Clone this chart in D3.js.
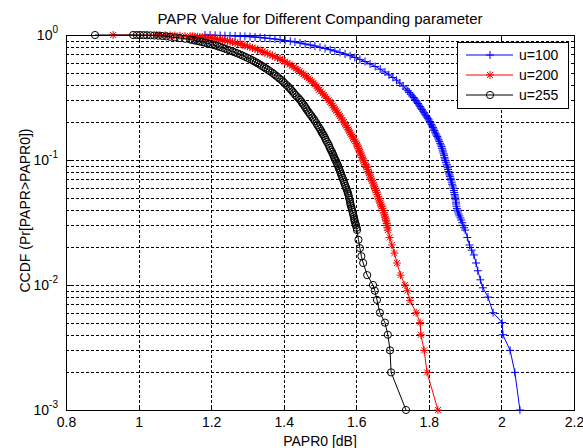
<!DOCTYPE html>
<html>
<head>
<meta charset="utf-8">
<script src="https://cdn.jsdelivr.net/npm/d3@7"></script>
<style>
  body { margin: 0; background: #fff; }
  svg { display: block; font-family: "Liberation Sans", Arial, sans-serif; }
</style>
</head>
<body>
<svg width="583" height="448"></svg>
<script>
// chart data
const xTicks = [0.8, 1, 1.2, 1.4, 1.6, 1.8, 2, 2.2];
const yTickExps = [0, -1, -2, -3];
const seriesNames = ['u=100', 'u=200', 'u=255'];

const u100X = [1.183, 1.197, 1.211, 1.225, 1.238, 1.252, 1.266, 1.280, 1.293, 1.307, 1.321, 1.335, 1.348, 1.362,
  1.376, 1.390, 1.404, 1.418, 1.431, 1.445, 1.459, 1.473, 1.486, 1.500, 1.514, 1.528, 1.541, 1.555, 1.569, 1.583,
  1.596, 1.610, 1.624, 1.638, 1.652, 1.666, 1.679, 1.690, 1.701, 1.711, 1.720, 1.729,
  1.737, 1.742, 1.746, 1.750, 1.754, 1.758, 1.761, 1.764, 1.767, 1.770, 1.773, 1.776, 1.778, 1.781, 1.784, 1.787,
  1.789, 1.792, 1.795, 1.798, 1.800, 1.803, 1.805, 1.807, 1.809, 1.811, 1.813, 1.815, 1.817, 1.819, 1.821, 1.823,
  1.825, 1.827, 1.829, 1.831, 1.833, 1.835, 1.836, 1.838, 1.839, 1.841, 1.842, 1.843, 1.844, 1.846, 1.847, 1.849,
  1.850, 1.852, 1.853, 1.854, 1.855, 1.857, 1.858, 1.860, 1.861, 1.863, 1.864, 1.866, 1.867, 1.869, 1.870, 1.871,
  1.872, 1.873, 1.874, 1.875, 1.875, 1.876, 1.877, 1.879, 1.880, 1.882, 1.884, 1.887, 1.889, 1.892, 1.894, 1.897,
  1.900, 1.906, 1.912, 1.918, 1.924, 1.930, 1.935, 1.942, 1.949, 1.963, 1.977, 2.002, 2.004, 2.024, 2.037, 2.051];
const u100Y = [1.000, 0.998, 0.995, 0.992, 0.989, 0.986, 0.982, 0.978, 0.973, 0.969, 0.964, 0.955, 0.946, 0.938,
  0.929, 0.916, 0.904, 0.892, 0.879, 0.863, 0.847, 0.832, 0.817, 0.798, 0.780, 0.762, 0.745, 0.725, 0.705, 0.683,
  0.661, 0.638, 0.614, 0.587, 0.560, 0.533, 0.506, 0.480, 0.457, 0.435, 0.413, 0.391,
  0.370, 0.358, 0.347, 0.336, 0.325, 0.316, 0.307, 0.299, 0.291, 0.283, 0.275, 0.267, 0.260, 0.253, 0.246, 0.239,
  0.233, 0.226, 0.220, 0.214, 0.209, 0.203, 0.198, 0.192, 0.187, 0.182, 0.177, 0.172, 0.167, 0.162, 0.158, 0.154,
  0.150, 0.145, 0.141, 0.136, 0.132, 0.128, 0.124, 0.120, 0.116, 0.112, 0.109, 0.105, 0.102, 0.099, 0.096, 0.0925,
  0.0895, 0.0867, 0.084, 0.081, 0.0786, 0.076, 0.074, 0.0715, 0.0692, 0.0665, 0.064, 0.062, 0.0596, 0.057, 0.055, 0.053,
  0.0515, 0.0497, 0.048, 0.046, 0.0445, 0.0427, 0.041, 0.0397, 0.0384, 0.037, 0.0357, 0.0344, 0.0331, 0.0315, 0.030, 0.0287,
  0.0275, 0.024, 0.0209, 0.019, 0.0174, 0.015, 0.013, 0.011, 0.0095, 0.008, 0.006, 0.005, 0.004, 0.003, 0.002, 0.001];

const u200X = [0.930, 1.050, 1.059, 1.073, 1.087, 1.100, 1.114, 1.128,
  1.142, 1.149, 1.155, 1.162, 1.169, 1.176, 1.183, 1.190, 1.197, 1.204, 1.211, 1.218, 1.224, 1.231, 1.238, 1.245,
  1.252, 1.259, 1.266, 1.273, 1.280, 1.287, 1.293, 1.300, 1.307, 1.314, 1.321, 1.328, 1.335, 1.342, 1.348, 1.355,
  1.362, 1.369, 1.376, 1.383, 1.390, 1.397, 1.403, 1.410, 1.417, 1.423, 1.428, 1.434, 1.439, 1.444, 1.449, 1.454,
  1.459, 1.464, 1.468, 1.473, 1.478, 1.482, 1.486, 1.490, 1.494, 1.498, 1.502, 1.507, 1.511, 1.515, 1.519, 1.524,
  1.528, 1.532, 1.535, 1.538, 1.541, 1.545, 1.548, 1.552, 1.555, 1.559, 1.562, 1.566, 1.569, 1.572, 1.575, 1.578,
  1.580, 1.583, 1.586, 1.589, 1.591, 1.594, 1.597, 1.600, 1.602, 1.604, 1.606, 1.608, 1.610, 1.612, 1.614, 1.616,
  1.618, 1.620, 1.622, 1.625, 1.627, 1.629, 1.631, 1.633, 1.635, 1.637, 1.639, 1.641, 1.643, 1.646, 1.648, 1.650,
  1.652, 1.654, 1.656, 1.658, 1.660, 1.662, 1.664, 1.666, 1.668, 1.670, 1.672, 1.674, 1.676, 1.678, 1.679, 1.681,
  1.682, 1.684, 1.685, 1.686, 1.687,
  1.692, 1.698, 1.705, 1.712, 1.722, 1.734, 1.741, 1.748, 1.765, 1.776, 1.778, 1.787, 1.795, 1.825];
const u200Y = [1.000, 1.000, 0.999, 0.997, 0.994, 0.991, 0.987, 0.983,
  0.978, 0.975, 0.971, 0.968, 0.964, 0.960, 0.955, 0.951, 0.946, 0.940, 0.933, 0.927, 0.920, 0.912, 0.904, 0.896,
  0.887, 0.877, 0.867, 0.857, 0.847, 0.836, 0.825, 0.814, 0.802, 0.790, 0.777, 0.764, 0.751, 0.738, 0.725, 0.712,
  0.698, 0.684, 0.670, 0.656, 0.642, 0.627, 0.612, 0.597, 0.581, 0.567, 0.553, 0.539, 0.525, 0.512, 0.499, 0.486,
  0.474, 0.461, 0.449, 0.437, 0.425, 0.413, 0.401, 0.389, 0.377, 0.365, 0.354, 0.342, 0.331, 0.321, 0.311, 0.301,
  0.291, 0.282, 0.273, 0.264, 0.256, 0.248, 0.240, 0.232, 0.225, 0.217, 0.209, 0.201, 0.194, 0.188, 0.182, 0.176,
  0.171, 0.165, 0.160, 0.155, 0.150, 0.145, 0.141, 0.136, 0.132, 0.128, 0.124, 0.120, 0.116, 0.112, 0.109, 0.105,
  0.102, 0.0985, 0.095, 0.092, 0.0895, 0.087, 0.084, 0.081, 0.0786, 0.0757, 0.073, 0.0705, 0.0681, 0.0655, 0.063, 0.061,
  0.0588, 0.057, 0.055, 0.053, 0.0508, 0.049, 0.047, 0.0455, 0.0438, 0.0424, 0.041, 0.0394, 0.0378, 0.0364, 0.035, 0.0338,
  0.0327, 0.031, 0.030, 0.0287, 0.0275,
  0.024, 0.0209, 0.018, 0.015, 0.012, 0.010, 0.009, 0.0075, 0.006, 0.005, 0.004, 0.003, 0.002, 0.001];

const u255X = [0.880, 0.985, 0.995, 1.004, 1.014, 1.023, 1.033, 1.043, 1.054, 1.065, 1.076, 1.087, 1.100, 1.114,
  1.128, 1.142, 1.149, 1.155, 1.162, 1.169, 1.176, 1.183, 1.190, 1.197, 1.204, 1.211, 1.218, 1.224, 1.231, 1.238,
  1.245, 1.252, 1.259, 1.266, 1.273, 1.280, 1.287, 1.293, 1.300, 1.307, 1.313, 1.318, 1.324, 1.329, 1.335, 1.340,
  1.346, 1.351, 1.357, 1.362, 1.368, 1.373, 1.378, 1.383, 1.388, 1.393, 1.398, 1.402, 1.407, 1.412, 1.416, 1.420,
  1.424, 1.428, 1.432, 1.436, 1.441, 1.445, 1.449, 1.452, 1.456, 1.459, 1.462, 1.465, 1.469, 1.472, 1.476, 1.479,
  1.483, 1.486, 1.490, 1.493, 1.497, 1.500, 1.503, 1.505, 1.508, 1.511, 1.514, 1.516, 1.519, 1.522, 1.525, 1.527,
  1.530, 1.533, 1.535, 1.537, 1.539, 1.541, 1.544, 1.546, 1.548, 1.550, 1.552, 1.554, 1.556, 1.558, 1.560, 1.562,
  1.564, 1.566, 1.568, 1.570, 1.572, 1.574, 1.576, 1.577, 1.579, 1.580, 1.582, 1.583, 1.584, 1.585, 1.587, 1.588,
  1.590, 1.591, 1.593, 1.594, 1.595, 1.596, 1.598, 1.599, 1.601, 1.602,
  1.606, 1.610, 1.614, 1.619, 1.630, 1.646, 1.651, 1.657, 1.665, 1.679, 1.687, 1.693, 1.696, 1.737];
const u255Y = [1.000, 1.000, 0.999, 0.999, 0.997, 0.996, 0.994, 0.991, 0.987, 0.982, 0.975, 0.967, 0.957, 0.946,
  0.933, 0.920, 0.912, 0.904, 0.896, 0.887, 0.877, 0.867, 0.857, 0.847, 0.836, 0.825, 0.814, 0.802, 0.790, 0.777,
  0.764, 0.751, 0.738, 0.725, 0.712, 0.698, 0.684, 0.670, 0.656, 0.642, 0.629, 0.617, 0.604, 0.592, 0.578, 0.565,
  0.552, 0.539, 0.526, 0.513, 0.500, 0.487, 0.474, 0.462, 0.449, 0.437, 0.424, 0.412, 0.399, 0.387, 0.376, 0.365,
  0.354, 0.343, 0.332, 0.322, 0.312, 0.302, 0.292, 0.283, 0.274, 0.265, 0.257, 0.249, 0.241, 0.233, 0.226, 0.219,
  0.212, 0.205, 0.197, 0.190, 0.183, 0.177, 0.171, 0.166, 0.161, 0.156, 0.150, 0.145, 0.140, 0.135, 0.130, 0.125,
  0.120, 0.116, 0.112, 0.109, 0.105, 0.102, 0.0985, 0.095, 0.092, 0.0895, 0.086, 0.083, 0.080, 0.0773, 0.0746, 0.072,
  0.0694, 0.0668, 0.0644, 0.062, 0.0598, 0.0577, 0.0558, 0.054, 0.052, 0.0498, 0.048, 0.046, 0.0445, 0.0430, 0.0415, 0.040,
  0.0385, 0.0371, 0.0355, 0.034, 0.033, 0.0320, 0.031, 0.030, 0.0287, 0.0275,
  0.023, 0.0197, 0.017, 0.015, 0.012, 0.010, 0.009, 0.0076, 0.006, 0.005, 0.004, 0.003, 0.002, 0.001];

const svg = d3.select('svg');

// plot box
const plotLeft = 66, plotRight = 574, plotTop = 35, plotBottom = 410;

const x = d3.scaleLinear().domain([0.8, 2.2]).range([plotLeft, plotRight]);
const y = d3.scaleLog().domain([1e-3, 1]).range([plotBottom, plotTop]);

const majorY = yTickExps.map(e => Math.pow(10, e));
const allY = y.ticks();                               // 1..9 x each decade
const minorY = allY.filter(d => !majorY.some(m => Math.abs(m - d) < 1e-12));
const px = v => Math.round(v) + 0.5;

// dashed grid
const grid = svg.append('g')
  .attr('stroke', '#000')
  .attr('stroke-width', 1)
  .attr('stroke-dasharray', '3,2')
  .attr('shape-rendering', 'crispEdges');

grid.selectAll('line.gx')
  .data(xTicks.slice(1, -1))
  .join('line')
  .attr('class', 'gx')
  .attr('x1', d => px(x(d))).attr('x2', d => px(x(d)))
  .attr('y1', plotTop).attr('y2', plotBottom);

grid.selectAll('line.gy')
  .data(allY.filter(d => d > 1e-3 && d < 1))
  .join('line')
  .attr('class', 'gy')
  .attr('x1', plotLeft).attr('x2', plotRight)
  .attr('y1', d => px(y(d))).attr('y2', d => px(y(d)));

// ticks on all four sides, pointing inward
function ticks(axis) {
  return g => {
    g.call(axis);
    g.select('.domain').remove();
    g.selectAll('line').attr('shape-rendering', 'crispEdges');
  };
}
svg.append('g').attr('transform', `translate(0,${plotBottom})`)
  .call(ticks(d3.axisBottom(x).tickValues(xTicks).tickSizeInner(-5).tickSizeOuter(0).tickPadding(7)
    .tickFormat(d => String(+d.toFixed(1)))))
  .attr('font-size', 14).attr('font-family', null);
svg.append('g').attr('transform', `translate(0,${plotTop})`)
  .call(ticks(d3.axisTop(x).tickValues(xTicks).tickSizeInner(-5).tickSizeOuter(0).tickFormat('')));
svg.append('g').attr('transform', `translate(${plotLeft},0)`)
  .call(ticks(d3.axisLeft(y).tickValues(majorY).tickSizeInner(-5).tickSizeOuter(0).tickFormat('')));
svg.append('g').attr('transform', `translate(${plotLeft},0)`)
  .call(ticks(d3.axisLeft(y).tickValues(minorY).tickSizeInner(-3).tickSizeOuter(0).tickFormat('')));
svg.append('g').attr('transform', `translate(${plotRight},0)`)
  .call(ticks(d3.axisRight(y).tickValues(majorY).tickSizeInner(-5).tickSizeOuter(0).tickFormat('')));
svg.append('g').attr('transform', `translate(${plotRight},0)`)
  .call(ticks(d3.axisRight(y).tickValues(minorY).tickSizeInner(-3).tickSizeOuter(0).tickFormat('')));

svg.selectAll('.tick text').attr('fill', '#000');

// y tick labels as 10^n
const yLab = svg.append('g').attr('font-size', 14).attr('text-anchor', 'end');
yTickExps.forEach(e => {
  const t = yLab.append('text').attr('x', plotLeft - 8).attr('y', y(Math.pow(10, e)) + 5);
  t.append('tspan').text('10');
  t.append('tspan').attr('dy', -7).attr('font-size', 10).text(e);
});

// box
svg.append('rect')
  .attr('x', plotLeft + 0.5).attr('y', plotTop + 0.5)
  .attr('width', plotRight - plotLeft).attr('height', plotBottom - plotTop)
  .attr('fill', 'none').attr('stroke', '#000')
  .attr('shape-rendering', 'crispEdges');

// marker shapes
const markers = {
  plus: g => g.append('path').attr('d', 'M-4,0H4M0,-4V4'),
  star: g => g.append('path').attr('d', 'M-4,0H4M0,-4V4M-3,-3L3,3M-3,3L3,-3'),
  circle: g => g.append('circle').attr('r', 3.6)
};

const series = [
  { name: seriesNames[0], xs: u100X, ys: u100Y, color: '#0000ff', marker: 'plus' },
  { name: seriesNames[1], xs: u200X, ys: u200Y, color: '#ff0000', marker: 'star' },
  { name: seriesNames[2], xs: u255X, ys: u255Y, color: '#000000', marker: 'circle' }
];

const line = d3.line().x(d => x(d[0])).y(d => y(d[1]));

series.forEach(s => {
  const pts = d3.zip(s.xs, s.ys);
  const g = svg.append('g');
  g.append('path')
    .datum(pts)
    .attr('d', line)
    .attr('fill', 'none')
    .attr('stroke', s.color)
    .attr('stroke-width', 1);
  g.selectAll('g.m')
    .data(pts)
    .join('g')
    .attr('class', 'm')
    .attr('transform', d => `translate(${x(d[0])},${y(d[1])})`)
    .attr('fill', 'none')
    .attr('stroke', s.color)
    .attr('stroke-width', 1)
    .each(function () { markers[s.marker](d3.select(this)); });
});

// legend
const legend = svg.append('g');
legend.append('rect')
  .attr('x', 457.5).attr('y', 42.5).attr('width', 111).attr('height', 66)
  .attr('fill', '#fff').attr('stroke', '#000')
  .attr('shape-rendering', 'crispEdges');
series.forEach((s, i) => {
  const ly = 55 + i * 20;
  legend.append('line')
    .attr('x1', 466).attr('x2', 513).attr('y1', ly).attr('y2', ly)
    .attr('stroke', s.color);
  const m = legend.append('g')
    .attr('transform', `translate(490,${ly})`)
    .attr('fill', 'none').attr('stroke', s.color);
  markers[s.marker](m);
  legend.append('text')
    .attr('x', 519).attr('y', ly + 5)
    .attr('font-size', 14)
    .text(s.name);
});

// title and axis labels
svg.append('text')
  .attr('x', (plotLeft + plotRight) / 2).attr('y', 24)
  .attr('text-anchor', 'middle').attr('font-size', 15)
  .text('PAPR Value for Different Companding parameter');

svg.append('text')
  .attr('x', (plotLeft + plotRight) / 2).attr('y', 446)
  .attr('text-anchor', 'middle').attr('font-size', 14)
  .text('PAPR0 [dB]');

svg.append('text')
  .attr('transform', `translate(30,${(plotTop + plotBottom) / 2 - 12}) rotate(-90)`)
  .attr('text-anchor', 'middle').attr('font-size', 14)
  .text('CCDF (Pr[PAPR>PAPR0])');
</script>
</body>
</html>
